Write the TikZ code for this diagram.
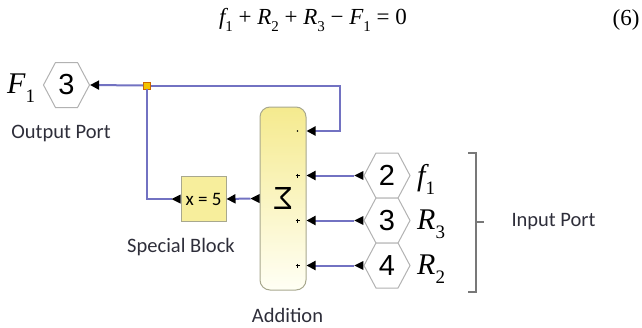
\documentclass[tikz,border=0pt]{standalone}
\usepackage[no-math]{fontspec}
\usepackage{graphicx}
\setmainfont{Carlito}
\newfontfamily\digitfont{Liberation Sans}
\newfontfamily\timesfont{Liberation Serif}
\usetikzlibrary{shapes.symbols,arrows.meta,calc}
\definecolor{wireblue}{HTML}{7272C2}
\definecolor{blockfill}{HTML}{F7EE9C}
\definecolor{blockedge}{HTML}{A8A88E}
\definecolor{hexedge}{HTML}{B2B2B2}
\definecolor{sumtop}{HTML}{F5EA8E}
\definecolor{sumbottom}{HTML}{FFFFF5}
\definecolor{junction}{HTML}{F2C200}
\definecolor{labeltext}{HTML}{2E2E3A}
\definecolor{bracket}{HTML}{787878}

\tikzset{
  wire/.style={draw=wireblue, line width=2pt},
  tip/.style={-{Triangle[length=9pt,width=9pt,color=black]}},
  hexport/.style={shape=signal, signal to=west and east, signal pointer angle=124,
    draw=hexedge, line width=1pt, fill=white, minimum width=46pt, minimum height=45pt,
    inner sep=0pt, font=\digitfont\fontsize{29}{30}\selectfont},
  mathlab/.style={font=\timesfont\fontsize{30}{32}\selectfont, anchor=west, inner sep=0pt},
  portlab/.style={font=\fontsize{20.5}{24}\selectfont, text=labeltext, inner sep=0pt},
  gainbox/.style={draw=blockedge, fill=blockfill, line width=1pt, minimum width=45pt,
    minimum height=45pt, inner sep=0pt, font=\fontsize{19}{22}\selectfont},
  sumbox/.style={draw=blockedge, rounded corners=10pt, top color=sumtop,
    bottom color=sumbottom, line width=1pt, minimum width=46pt, minimum height=183pt,
    inner sep=0pt},
  junc/.style={draw=orange!80!black, fill=junction, line width=0.5pt, minimum size=7pt,
    inner sep=0pt}
}
% port triangle pointing left, its base on the anchor
\newcommand\porttip[1]{\fill ($(#1)+(-9,0)$) -- ++(9,-4.5) -- ++(0,9) -- cycle;}
% italic letter with a subscript of size #3
\newcommand\tv[3]{{\itshape #1}\raisebox{-0.3em}{\fontsize{#3}{#3}\selectfont #2}}

\begin{document}
\begin{tikzpicture}[x=1pt,y=-1pt]
  \useasboundingbox (0,0) rectangle (642,327);

  % equation
  \node[font=\timesfont\fontsize{23}{26}\selectfont] (eqn) at (313,20)
    {\tv{f}{1}{15} + \tv{R}{2}{15} + \tv{R}{3}{15} − \tv{F}{1}{15} = 0};
  \node[font=\timesfont\fontsize{23}{26}\selectfont] (eqnum) at (626,20) {(6)};

  % output side
  \node[hexport] (outport) at (66.5,85) {3};
  \node[mathlab] (F1) at (7,88) {\tv{F}{1}{19}};
  \node[portlab] (outlab) at (61,133) {Output Port};
  \node[junc] (split) at (147,85.5) {};
  \node[gainbox] (xset) at (203.5,199) {x = 5};
  \node[portlab] (xlab) at (181,247) {Special Block};

  % adder
  \node[sumbox] (adder) at (283,198.5) {\digitfont\fontsize{32}{34}\selectfont\reflectbox{Σ}};
  \node[portlab] (addlab) at (287.5,315) {Addition};

  % input ports
  \node[hexport] (in2) at (387,175.5) {2};
  \node[hexport] (in3) at (387,220.5) {3};
  \node[hexport] (in4) at (387,265.5) {4};
  \node[mathlab] (f1lab) at (417,179) {\tv{f}{1}{19}};
  \node[mathlab] (R3lab) at (417,224) {\tv{R}{3}{19}};
  \node[mathlab] (R2lab) at (417,269) {\tv{R}{2}{19}};
  \node[portlab] (inlab) at (553.5,222) {Input Port};
  \draw[bracket, line width=1.3pt] (468,153) -- (476,153) -- (476,292) -- (468,292);
  \draw[bracket, line width=1.3pt] (476,222) -- (484,222);

  % wires
  \coordinate (fbturn) at (340,131);
  \draw[wire, tip] (split.west) -- (outport.east);
  \draw[wire, tip] (split.east) -| (fbturn) -- (adder.east |- fbturn);
  \draw[wire] (split.south) |- ($(xset.west)+(-9,0)$);
  \porttip{xset.west}
  \porttip{adder.west}
  \draw[wire, tip] ($(adder.west)+(-9,0)$) -- (xset.east);
  \foreach \p in {in2,in3,in4}{
    \porttip{\p.west}
    \draw[wire, tip] ($(\p.west)+(-9,0)$) -- (adder.east |- \p.west);
    \draw[line width=0.7pt] ($(adder.east |- \p.west)+(-9,0)$) +(-2,0) -- +(2,0) +(0,-2) -- +(0,2);
  }
  \fill ($(adder.east |- fbturn)+(-9,0)$) circle (0.9pt);
\end{tikzpicture}
\end{document}
